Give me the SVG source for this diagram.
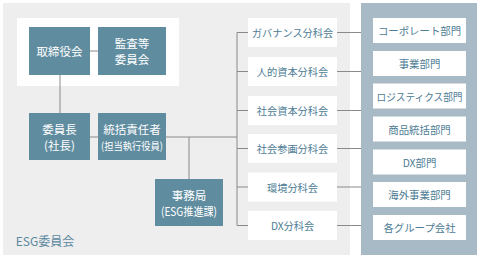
<svg xmlns="http://www.w3.org/2000/svg" width="480" height="258" viewBox="0 0 480 258">
<style>
text{font-family:"Noto Sans CJK JP","Noto Sans",sans-serif;text-anchor:middle;dominant-baseline:central}
.dk{fill:#5f8c9f}
.dt{fill:#ffffff;font-size:11.5px}
.wb{fill:#ffffff}
.ct{fill:#4d7c94;font-size:10.2px}
.rt{fill:#4d7c94;font-size:10.4px}
.ln{stroke:#8a8a8a;stroke-width:1;fill:none}
</style>
<rect x="3" y="3" width="347" height="252" fill="#eeeeee"/>
<rect x="361" y="3" width="116" height="252" fill="#a7bac5"/>
<rect x="17" y="18" width="162" height="68" fill="#ffffff"/>
<g id="connectors" class="ln">
<path d="M90 51H98M60 75V113M90 137H237M189 137V179M237 32.5V225.5"/>
<path d="M237 32.5H248M237 71.5H248M237 110.5H248M237 148.5H248M237 187H248M237 225.5H248"/>
<path d="M337 32.5H361M337 71.5H361M337 110.5H361M337 148.5H361M337 187H361M337 225.5H361"/>
</g>
<g id="torishimariyakukai"><rect class="dk" x="29" y="27" width="61" height="48"/><text class="dt" x="59.5" y="51">取締役会</text></g>
<g id="kansatou"><rect class="dk" x="98" y="27" width="68" height="48"/><text class="dt" x="132" y="43">監査等</text><text class="dt" x="132" y="59">委員会</text></g>
<g id="iinchou"><rect class="dk" x="29" y="113" width="61" height="47"/><text class="dt" x="59.5" y="129">委員長</text><text class="dt" x="59.5" y="145">(社長)</text></g>
<g id="toukatsu"><rect class="dk" x="98" y="113" width="68" height="47"/><text class="dt" x="132" y="129">統括責任者</text><text class="dt" x="132" y="145" style="font-size:10.5px" textLength="62" lengthAdjust="spacingAndGlyphs">(担当執行役員)</text></g>
<g id="jimukyoku"><rect class="dk" x="155" y="179" width="68" height="47"/><text class="dt" x="189" y="195">事務局</text><text class="dt" x="189" y="211" textLength="56" lengthAdjust="spacingAndGlyphs">(ESG推進課)</text></g>
<text x="45" y="240" style="fill:#5b89a0;font-size:12px">ESG委員会</text>
<g id="c1"><rect class="wb" x="248" y="18" width="89" height="29"/><text class="ct" x="292.5" y="32.5">ガバナンス分科会</text></g>
<g id="c2"><rect class="wb" x="248" y="57" width="89" height="29"/><text class="ct" x="292.5" y="71.5">人的資本分科会</text></g>
<g id="c3"><rect class="wb" x="248" y="96" width="89" height="29"/><text class="ct" x="292.5" y="110.5">社会資本分科会</text></g>
<g id="c4"><rect class="wb" x="248" y="134" width="89" height="29"/><text class="ct" x="292.5" y="148.5">社会参画分科会</text></g>
<g id="c5"><rect class="wb" x="248" y="172.5" width="89" height="29"/><text class="ct" x="292.5" y="187">環境分科会</text></g>
<g id="c6"><rect class="wb" x="248" y="211" width="89" height="29"/><text class="ct" x="292.5" y="225.5">DX分科会</text></g>
<g id="d1"><rect class="wb" x="373" y="18" width="93" height="25"/><text class="rt" x="419.5" y="30.5">コーポレート部門</text></g>
<g id="d2"><rect class="wb" x="373" y="51" width="93" height="25"/><text class="rt" x="419.5" y="63.5">事業部門</text></g>
<g id="d3"><rect class="wb" x="373" y="83.5" width="93" height="25"/><text class="rt" x="419.5" y="96" textLength="86" lengthAdjust="spacingAndGlyphs">ロジスティクス部門</text></g>
<g id="d4"><rect class="wb" x="373" y="116.5" width="93" height="25"/><text class="rt" x="419.5" y="129">商品統括部門</text></g>
<g id="d5"><rect class="wb" x="373" y="149.5" width="93" height="25"/><text class="rt" x="419.5" y="162">DX部門</text></g>
<g id="d6"><rect class="wb" x="373" y="182" width="93" height="25"/><text class="rt" x="419.5" y="194.5">海外事業部門</text></g>
<g id="d7"><rect class="wb" x="373" y="215" width="93" height="25"/><text class="rt" x="419.5" y="227.5">各グループ会社</text></g>
</svg>
